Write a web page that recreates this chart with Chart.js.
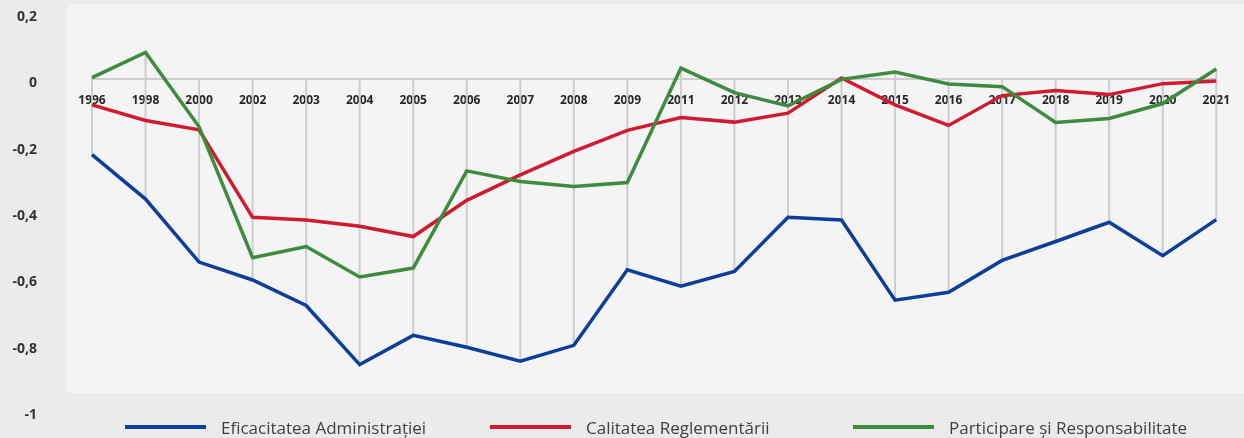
<!DOCTYPE html>
<html lang="ro">
<head>
    <meta charset="UTF-8">
    <title>Indicatori de guvernanță 1996-2021</title>
    <script src="https://cdn.jsdelivr.net/npm/chart.js"></script>
    <style>
        body {
            margin: 0;
            padding: 0;
            background-color: #ebebeb;
            font-family: "Open Sans", Lato, Arial, sans-serif;
        }
        .wrap {
            position: relative;
            width: 1244px;
            height: 438px;
        }
        .legend-item {
            position: absolute;
            top: 416px;
            height: 22px;
            display: flex;
            align-items: center;
            font-size: 17px;
            color: #404040;
            white-space: nowrap;
        }
        .legend-item span.swatch {
            display: inline-block;
            width: 81px;
            height: 4px;
            margin-right: 15px;
        }
    </style>
</head>
<body>
    <div class="wrap">
        <canvas id="govChart" width="1244" height="438"></canvas>
    </div>
    <script>
        // ani (categorii)
        const years = ['1996', '1998', '2000', '2002', '2003', '2004', '2005', '2006', '2007', '2008', '2009',
                       '2011', '2012', '2013', '2014', '2015', '2016', '2017', '2018', '2019', '2020', '2021'];

        const eficacitate = [-0.227, -0.361, -0.551, -0.605, -0.682, -0.86, -0.772, -0.808, -0.85, -0.802, -0.574,
                             -0.624, -0.579, -0.416, -0.424, -0.666, -0.642, -0.546, -0.489, -0.431, -0.532, -0.423];
        const calitate = [-0.077, -0.124, -0.152, -0.416, -0.424, -0.443, -0.474, -0.365, -0.288, -0.217, -0.154,
                          -0.115, -0.129, -0.102, 0.004, -0.077, -0.139, -0.049, -0.034, -0.046, -0.013, -0.005];
        const participare = [0.005, 0.081, -0.143, -0.538, -0.504, -0.596, -0.569, -0.276, -0.308, -0.323, -0.311,
                             0.034, -0.04, -0.08, 0.0, 0.022, -0.014, -0.022, -0.13, -0.118, -0.073, 0.031];

        const seriesNames = ['Eficacitatea Administraţiei', 'Calitatea Reglementării', 'Participare şi Responsabilitate'];
        const seriesColors = ['#0c3e9a', '#d01a30', '#3d8b3d'];
        const legendLeft = [125, 490, 853];

        // fundalul zonei de grafic + liniile verticale max-min
        const plotBg = {
            id: 'plotBg',
            beforeDraw(chart) {
                const ctx = chart.ctx;
                ctx.save();
                ctx.fillStyle = '#f4f4f4';
                ctx.fillRect(67, 4, 1244 - 67, 389);
                ctx.restore();
            },
            beforeDatasetsDraw(chart) {
                const ctx = chart.ctx;
                const x = chart.scales.x, y = chart.scales.y;
                ctx.save();
                ctx.strokeStyle = '#cdcdcd';
                ctx.lineWidth = 2;
                years.forEach((yr, i) => {
                    const vals = chart.data.datasets.map(d => d.data[i]);
                    const hi = Math.max(0, ...vals), lo = Math.min(0, ...vals);
                    const px = x.getPixelForValue(i);
                    ctx.beginPath();
                    ctx.moveTo(px, y.getPixelForValue(hi));
                    ctx.lineTo(px, y.getPixelForValue(lo));
                    ctx.stroke();
                });
                ctx.restore();
            }
        };

        const allSeries = [eficacitate, calitate, participare];

        const ctx = document.getElementById('govChart').getContext('2d');
        const chart = new Chart(ctx, {
            type: 'line',
            data: {
                labels: years,
                datasets: allSeries.map((vals, i) => ({
                    label: seriesNames[i],
                    data: vals,
                    borderColor: seriesColors[i],
                    backgroundColor: seriesColors[i],
                    borderWidth: 3.5,
                    pointRadius: 0,
                    tension: 0,
                    order: 3 - i
                }))
            },
            options: {
                responsive: false,
                animation: false,
                layout: { padding: { top: 13, bottom: 27, left: 0, right: 24 } },
                plugins: {
                    legend: { display: false },
                    tooltip: { enabled: false }
                },
                scales: {
                    x: {
                        position: { y: 0 },
                        offset: false,
                        // axa stă în interiorul zonei, nu trebuie să ia loc
                        afterFit(scale) {
                            scale.height = 0;
                            scale.paddingTop = 0;
                            scale.paddingBottom = 0;
                        },
                        grid: { display: false, drawTicks: false },
                        border: { display: true, color: '#cdcdcd', width: 2 },
                        ticks: {
                            padding: 14,
                            maxRotation: 0,
                            autoSkip: false,
                            color: '#262626',
                            font: { family: 'Open Sans', size: 12, weight: 'bold' }
                        }
                    },
                    y: {
                        min: -1,
                        max: 0.2,
                        afterFit(scale) {
                            scale.width = 92;
                            scale.paddingTop = 0;
                            scale.paddingBottom = 0;
                        },
                        grid: { display: false, drawTicks: false },
                        border: { display: false },
                        ticks: {
                            stepSize: 0.2,
                            padding: 55,
                            labelOffset: 4,
                            color: '#333333',
                            font: { family: 'Open Sans', size: 14, weight: 'bold' },
                            callback: v => String(Math.round(v * 10) / 10).replace('.', ',')
                        }
                    }
                }
            },
            plugins: [plotBg]
        });

        // legenda
        const wrap = document.querySelector('.wrap');
        seriesNames.forEach((name, i) => {
            const item = document.createElement('div');
            item.className = 'legend-item';
            item.style.left = legendLeft[i] + 'px';
            const sw = document.createElement('span');
            sw.className = 'swatch';
            sw.style.backgroundColor = seriesColors[i];
            item.appendChild(sw);
            item.appendChild(document.createTextNode(name));
            wrap.appendChild(item);
        });
    </script>
</body>
</html>
